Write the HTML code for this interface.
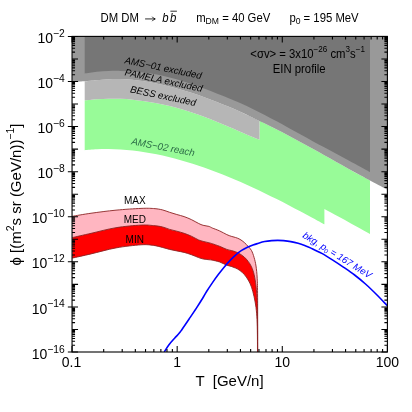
<!DOCTYPE html>
<html><head><meta charset="utf-8"><title>chart</title>
<style>html,body{margin:0;padding:0;background:#fff;width:412px;height:412px;overflow:hidden;}svg{display:block;position:absolute;left:0;top:0;will-change:transform;}text{font-family:"Liberation Sans",sans-serif;}</style></head>
<body>
<svg width="412" height="412" viewBox="0 0 412 412">
<clipPath id="cp"><rect x="72.05" y="36.40" width="315.35" height="315.60"/></clipPath>
<g clip-path="url(#cp)">
<path d="M84.70 100.34 C86.70 100.14 92.70 99.42 96.70 99.14 C100.70 98.86 104.70 98.70 108.70 98.65 C112.70 98.60 116.70 98.67 120.70 98.84 C124.70 99.01 128.70 99.30 132.70 99.69 C136.70 100.08 140.70 100.56 144.70 101.15 C148.70 101.74 152.70 102.43 156.70 103.21 C160.70 103.99 164.70 104.86 168.70 105.83 C172.70 106.80 176.70 107.85 180.70 109.01 C184.70 110.17 188.70 111.45 192.70 112.79 C196.70 114.14 200.70 115.58 204.70 117.08 C208.70 118.58 212.70 120.17 216.70 121.79 C220.70 123.41 224.70 125.09 228.70 126.78 C232.70 128.47 236.70 130.20 240.70 131.90 C244.70 133.60 249.57 135.67 252.70 136.99 C255.83 138.31 258.37 139.33 259.50 139.80 L259.50 120.87 C260.30 121.26 261.50 121.80 264.30 123.20 C267.10 124.60 272.30 127.21 276.30 129.27 C280.30 131.33 284.30 133.43 288.30 135.55 C292.30 137.67 296.30 139.82 300.30 142.00 C304.30 144.18 308.30 146.38 312.30 148.60 C316.30 150.82 320.30 153.06 324.30 155.30 C328.30 157.54 332.30 159.78 336.30 162.02 C340.30 164.26 344.30 166.50 348.30 168.73 C352.30 170.95 356.68 173.39 360.30 175.37 C363.92 177.35 368.38 179.75 370.00 180.62 L370.00 233.90 C366.25 231.83 355.10 225.65 347.50 221.50 C339.90 217.35 328.25 211.08 324.40 209.00 L324.40 224.27 C322.45 223.21 316.65 220.02 312.70 217.88 C308.75 215.74 304.70 213.57 300.70 211.45 C296.70 209.33 292.70 207.23 288.70 205.16 C284.70 203.09 280.70 201.05 276.70 199.05 C272.70 197.05 268.70 195.08 264.70 193.15 C260.70 191.22 256.70 189.32 252.70 187.48 C248.70 185.63 244.70 183.83 240.70 182.08 C236.70 180.33 232.70 178.62 228.70 176.98 C224.70 175.33 220.70 173.74 216.70 172.21 C212.70 170.68 208.70 169.21 204.70 167.80 C200.70 166.40 196.70 165.05 192.70 163.78 C188.70 162.51 184.70 161.31 180.70 160.18 C176.70 159.06 172.70 158.00 168.70 157.03 C164.70 156.06 160.70 155.17 156.70 154.36 C152.70 153.56 148.70 152.83 144.70 152.20 C140.70 151.57 136.70 151.03 132.70 150.59 C128.70 150.15 124.70 149.80 120.70 149.55 C116.70 149.30 112.70 149.15 108.70 149.11 C104.70 149.07 100.70 149.13 96.70 149.31 C92.70 149.49 86.70 150.03 84.70 150.17 Z" fill="#98fb98"/>
<path d="M84.70 81.21 C86.63 81.03 92.37 80.47 96.30 80.13 C100.23 79.79 104.30 79.39 108.30 79.20 C112.30 79.02 116.30 78.92 120.30 79.02 C124.30 79.12 128.30 79.41 132.30 79.80 C136.30 80.19 140.30 80.74 144.30 81.36 C148.30 81.98 152.30 82.72 156.30 83.53 C160.30 84.34 164.30 85.25 168.30 86.23 C172.30 87.21 176.30 88.29 180.30 89.43 C184.30 90.58 188.30 91.80 192.30 93.10 C196.30 94.39 200.30 95.76 204.30 97.20 C208.30 98.64 212.30 100.15 216.30 101.72 C220.30 103.29 224.30 104.92 228.30 106.61 C232.30 108.30 236.30 110.05 240.30 111.84 C244.30 113.64 249.10 115.87 252.30 117.38 C255.50 118.89 258.30 120.29 259.50 120.87 L259.50 139.80 C258.37 139.33 255.83 138.31 252.70 136.99 C249.57 135.67 244.70 133.60 240.70 131.90 C236.70 130.20 232.70 128.47 228.70 126.78 C224.70 125.09 220.70 123.41 216.70 121.79 C212.70 120.17 208.70 118.58 204.70 117.08 C200.70 115.58 196.70 114.14 192.70 112.79 C188.70 111.45 184.70 110.17 180.70 109.01 C176.70 107.85 172.70 106.80 168.70 105.83 C164.70 104.86 160.70 103.99 156.70 103.21 C152.70 102.43 148.70 101.74 144.70 101.15 C140.70 100.56 136.70 100.08 132.70 99.69 C128.70 99.30 124.70 99.01 120.70 98.84 C116.70 98.67 112.70 98.60 108.70 98.65 C104.70 98.70 100.70 98.86 96.70 99.14 C92.70 99.42 86.70 100.14 84.70 100.34 Z" fill="#b6b6b6"/>
<path d="M72.05 34.40 L389.40 34.40 L389.40 190.79 L387.40 189.79 C384.88 188.47 376.82 184.27 372.30 181.87 C367.78 179.47 364.30 177.56 360.30 175.37 C356.30 173.18 352.30 170.95 348.30 168.73 C344.30 166.50 340.30 164.26 336.30 162.02 C332.30 159.78 328.30 157.54 324.30 155.30 C320.30 153.06 316.30 150.82 312.30 148.60 C308.30 146.38 304.30 144.18 300.30 142.00 C296.30 139.82 292.30 137.67 288.30 135.55 C284.30 133.43 280.30 131.33 276.30 129.27 C272.30 127.21 268.30 125.18 264.30 123.20 C260.30 121.22 256.30 119.27 252.30 117.38 C248.30 115.49 244.30 113.64 240.30 111.84 C236.30 110.05 232.30 108.30 228.30 106.61 C224.30 104.92 220.30 103.29 216.30 101.72 C212.30 100.15 208.30 98.64 204.30 97.20 C200.30 95.76 196.30 94.39 192.30 93.10 C188.30 91.80 184.30 90.58 180.30 89.43 C176.30 88.29 172.30 87.21 168.30 86.23 C164.30 85.25 160.30 84.34 156.30 83.53 C152.30 82.72 148.30 81.98 144.30 81.36 C140.30 80.74 136.30 80.19 132.30 79.80 C128.30 79.41 124.30 79.12 120.30 79.02 C116.30 78.92 112.30 79.02 108.30 79.20 C104.30 79.39 100.30 79.79 96.30 80.13 C92.30 80.47 88.30 80.94 84.30 81.25 C80.30 81.56 74.30 81.86 72.30 81.98 Z" fill="#999999"/>
<path d="M84.70 34.40 L370.00 34.40 L370.00 172.01 C368.45 171.16 364.25 168.86 360.70 166.94 C357.15 165.02 352.70 162.62 348.70 160.47 C344.70 158.32 340.70 156.17 336.70 154.03 C332.70 151.89 328.70 149.76 324.70 147.61 C320.70 145.46 316.70 143.31 312.70 141.14 C308.70 138.97 304.70 136.79 300.70 134.60 C296.70 132.41 292.70 130.19 288.70 127.98 C284.70 125.78 280.70 123.54 276.70 121.37 C272.70 119.20 268.70 117.02 264.70 114.94 C260.70 112.86 256.70 110.82 252.70 108.89 C248.70 106.96 244.70 105.12 240.70 103.34 C236.70 101.56 232.70 99.87 228.70 98.22 C224.70 96.57 220.70 94.98 216.70 93.42 C212.70 91.86 208.70 90.35 204.70 88.87 C200.70 87.39 196.70 85.94 192.70 84.56 C188.70 83.19 184.70 81.84 180.70 80.62 C176.70 79.40 172.70 78.23 168.70 77.22 C164.70 76.21 160.70 75.30 156.70 74.54 C152.70 73.78 148.70 73.17 144.70 72.66 C140.70 72.15 136.70 71.77 132.70 71.47 C128.70 71.17 124.70 70.97 120.70 70.89 C116.70 70.81 112.70 70.82 108.70 70.97 C104.70 71.12 100.70 71.38 96.70 71.80 C92.70 72.22 86.70 73.23 84.70 73.51 Z" fill="#767676"/>
<path d="M72.30 216.30 C75.42 215.79 83.72 214.26 91.00 213.24 C98.28 212.22 107.67 210.97 116.00 210.16 C124.33 209.35 134.75 208.67 141.00 208.40 C147.25 208.13 149.95 208.29 153.50 208.53 C157.05 208.77 159.62 209.22 162.30 209.85 C164.98 210.48 167.18 211.53 169.60 212.30 C172.02 213.08 174.38 213.78 176.80 214.50 C179.22 215.22 181.67 215.75 184.10 216.60 C186.53 217.45 188.97 218.45 191.40 219.60 C193.83 220.75 196.75 222.55 198.70 223.50 C200.65 224.45 201.40 224.82 203.10 225.30 C204.80 225.78 207.37 225.95 208.90 226.40 C210.43 226.85 210.52 227.25 212.30 228.00 C214.08 228.75 217.18 229.80 219.60 230.90 C222.02 232.00 224.87 233.70 226.80 234.60 C228.73 235.50 229.73 235.82 231.20 236.30 C232.67 236.78 234.15 237.00 235.60 237.50 C237.05 238.00 238.45 238.47 239.90 239.30 C241.35 240.13 242.92 241.30 244.30 242.50 C245.68 243.70 247.00 245.17 248.20 246.50 C249.40 247.83 250.52 248.67 251.50 250.50 C252.48 252.33 253.35 254.92 254.10 257.50 C254.85 260.08 255.48 262.53 256.00 266.00 C256.52 269.47 256.93 273.00 257.20 278.30 C257.47 283.60 257.52 285.48 257.60 297.80 C257.68 310.12 257.68 343.13 257.70 352.20 L257.60 352.20 C257.58 346.75 257.57 327.93 257.50 319.50 C257.43 311.07 257.45 307.18 257.20 301.60 C256.95 296.02 256.52 290.52 256.00 286.00 C255.48 281.48 254.85 277.70 254.10 274.50 C253.35 271.30 252.48 268.98 251.50 266.80 C250.52 264.62 249.40 263.02 248.20 261.40 C247.00 259.78 245.68 258.35 244.30 257.10 C242.92 255.85 241.35 254.78 239.90 253.90 C238.45 253.02 237.05 252.37 235.60 251.80 C234.15 251.23 232.67 250.90 231.20 250.50 C229.73 250.10 228.73 250.10 226.80 249.40 C224.87 248.70 222.02 247.25 219.60 246.30 C217.18 245.36 214.08 244.32 212.30 243.73 C210.52 243.14 210.43 243.13 208.90 242.74 C207.37 242.35 204.80 241.84 203.10 241.38 C201.40 240.92 200.65 240.86 198.70 240.00 C196.75 239.14 193.83 237.32 191.40 236.20 C188.97 235.08 186.53 234.13 184.10 233.30 C181.67 232.47 179.22 231.85 176.80 231.20 C174.38 230.55 172.02 230.12 169.60 229.40 C167.18 228.68 164.98 227.53 162.30 226.90 C159.62 226.27 157.05 225.90 153.50 225.60 C149.95 225.30 147.25 224.75 141.00 225.10 C134.75 225.45 124.33 226.32 116.00 227.70 C107.67 229.07 98.28 231.70 91.00 233.35 C83.72 235.00 75.42 236.89 72.30 237.60 Z" fill="#ffb6c1"/>
<path d="M72.30 237.60 C75.42 236.89 83.72 235.00 91.00 233.35 C98.28 231.70 107.67 229.07 116.00 227.70 C124.33 226.32 134.75 225.45 141.00 225.10 C147.25 224.75 149.95 225.30 153.50 225.60 C157.05 225.90 159.62 226.27 162.30 226.90 C164.98 227.53 167.18 228.68 169.60 229.40 C172.02 230.12 174.38 230.55 176.80 231.20 C179.22 231.85 181.67 232.47 184.10 233.30 C186.53 234.13 188.97 235.08 191.40 236.20 C193.83 237.32 196.75 239.14 198.70 240.00 C200.65 240.86 201.40 240.92 203.10 241.38 C204.80 241.84 207.37 242.35 208.90 242.74 C210.43 243.13 210.52 243.14 212.30 243.73 C214.08 244.32 217.18 245.36 219.60 246.30 C222.02 247.25 224.87 248.70 226.80 249.40 C228.73 250.10 229.73 250.10 231.20 250.50 C232.67 250.90 234.15 251.23 235.60 251.80 C237.05 252.37 238.45 253.02 239.90 253.90 C241.35 254.78 242.92 255.85 244.30 257.10 C245.68 258.35 247.00 259.78 248.20 261.40 C249.40 263.02 250.52 264.62 251.50 266.80 C252.48 268.98 253.35 271.30 254.10 274.50 C254.85 277.70 255.48 281.48 256.00 286.00 C256.52 290.52 256.95 296.02 257.20 301.60 C257.45 307.18 257.43 311.07 257.50 319.50 C257.57 327.93 257.58 346.75 257.60 352.20 L257.50 352.20 C257.48 349.25 257.48 339.95 257.40 334.50 C257.32 329.05 257.23 324.00 257.00 319.50 C256.77 315.00 256.48 311.28 256.00 307.50 C255.52 303.72 254.85 300.20 254.10 296.80 C253.35 293.40 252.48 289.90 251.50 287.10 C250.52 284.30 249.40 282.10 248.20 280.00 C247.00 277.90 245.68 276.08 244.30 274.50 C242.92 272.92 241.35 271.57 239.90 270.50 C238.45 269.43 237.05 268.78 235.60 268.10 C234.15 267.42 232.67 266.89 231.20 266.40 C229.73 265.91 228.73 265.90 226.80 265.16 C224.87 264.42 222.02 262.79 219.60 261.96 C217.18 261.13 214.08 260.53 212.30 260.16 C210.52 259.79 210.43 259.92 208.90 259.72 C207.37 259.52 204.80 259.29 203.10 258.94 C201.40 258.59 200.65 258.32 198.70 257.61 C196.75 256.90 193.83 255.57 191.40 254.70 C188.97 253.83 186.53 253.03 184.10 252.40 C181.67 251.77 179.22 251.41 176.80 250.91 C174.38 250.41 172.02 250.00 169.60 249.41 C167.18 248.82 164.98 248.06 162.30 247.39 C159.62 246.72 157.05 245.83 153.50 245.40 C149.95 244.97 147.25 244.38 141.00 244.80 C134.75 245.22 124.33 246.38 116.00 247.90 C107.67 249.42 98.28 252.20 91.00 253.90 C83.72 255.60 75.42 257.40 72.30 258.10 Z" fill="#ff0000"/>
<path d="M72.30 216.30 C75.42 215.79 83.72 214.26 91.00 213.24 C98.28 212.22 107.67 210.97 116.00 210.16 C124.33 209.35 134.75 208.67 141.00 208.40 C147.25 208.13 149.95 208.29 153.50 208.53 C157.05 208.77 159.62 209.22 162.30 209.85 C164.98 210.48 167.18 211.53 169.60 212.30 C172.02 213.08 174.38 213.78 176.80 214.50 C179.22 215.22 181.67 215.75 184.10 216.60 C186.53 217.45 188.97 218.45 191.40 219.60 C193.83 220.75 196.75 222.55 198.70 223.50 C200.65 224.45 201.40 224.82 203.10 225.30 C204.80 225.78 207.37 225.95 208.90 226.40 C210.43 226.85 210.52 227.25 212.30 228.00 C214.08 228.75 217.18 229.80 219.60 230.90 C222.02 232.00 224.87 233.70 226.80 234.60 C228.73 235.50 229.73 235.82 231.20 236.30 C232.67 236.78 234.15 237.00 235.60 237.50 C237.05 238.00 238.45 238.47 239.90 239.30 C241.35 240.13 242.92 241.30 244.30 242.50 C245.68 243.70 247.00 245.17 248.20 246.50 C249.40 247.83 250.52 248.67 251.50 250.50 C252.48 252.33 253.35 254.92 254.10 257.50 C254.85 260.08 255.48 262.53 256.00 266.00 C256.52 269.47 256.93 273.00 257.20 278.30 C257.47 283.60 257.52 285.48 257.60 297.80 C257.68 310.12 257.68 343.13 257.70 352.20" fill="none" stroke="#8b2323" stroke-width="0.9"/>
<path d="M72.30 237.60 C75.42 236.89 83.72 235.00 91.00 233.35 C98.28 231.70 107.67 229.07 116.00 227.70 C124.33 226.32 134.75 225.45 141.00 225.10 C147.25 224.75 149.95 225.30 153.50 225.60 C157.05 225.90 159.62 226.27 162.30 226.90 C164.98 227.53 167.18 228.68 169.60 229.40 C172.02 230.12 174.38 230.55 176.80 231.20 C179.22 231.85 181.67 232.47 184.10 233.30 C186.53 234.13 188.97 235.08 191.40 236.20 C193.83 237.32 196.75 239.14 198.70 240.00 C200.65 240.86 201.40 240.92 203.10 241.38 C204.80 241.84 207.37 242.35 208.90 242.74 C210.43 243.13 210.52 243.14 212.30 243.73 C214.08 244.32 217.18 245.36 219.60 246.30 C222.02 247.25 224.87 248.70 226.80 249.40 C228.73 250.10 229.73 250.10 231.20 250.50 C232.67 250.90 234.15 251.23 235.60 251.80 C237.05 252.37 238.45 253.02 239.90 253.90 C241.35 254.78 242.92 255.85 244.30 257.10 C245.68 258.35 247.00 259.78 248.20 261.40 C249.40 263.02 250.52 264.62 251.50 266.80 C252.48 268.98 253.35 271.30 254.10 274.50 C254.85 277.70 255.48 281.48 256.00 286.00 C256.52 290.52 256.95 296.02 257.20 301.60 C257.45 307.18 257.43 311.07 257.50 319.50 C257.57 327.93 257.58 346.75 257.60 352.20" fill="none" stroke="#8b2323" stroke-width="0.9"/>
<path d="M72.30 258.10 C75.42 257.40 83.72 255.60 91.00 253.90 C98.28 252.20 107.67 249.42 116.00 247.90 C124.33 246.38 134.75 245.22 141.00 244.80 C147.25 244.38 149.95 244.97 153.50 245.40 C157.05 245.83 159.62 246.72 162.30 247.39 C164.98 248.06 167.18 248.82 169.60 249.41 C172.02 250.00 174.38 250.41 176.80 250.91 C179.22 251.41 181.67 251.77 184.10 252.40 C186.53 253.03 188.97 253.83 191.40 254.70 C193.83 255.57 196.75 256.90 198.70 257.61 C200.65 258.32 201.40 258.59 203.10 258.94 C204.80 259.29 207.37 259.52 208.90 259.72 C210.43 259.92 210.52 259.79 212.30 260.16 C214.08 260.53 217.18 261.13 219.60 261.96 C222.02 262.79 224.87 264.42 226.80 265.16 C228.73 265.90 229.73 265.91 231.20 266.40 C232.67 266.89 234.15 267.42 235.60 268.10 C237.05 268.78 238.45 269.43 239.90 270.50 C241.35 271.57 242.92 272.92 244.30 274.50 C245.68 276.08 247.00 277.90 248.20 280.00 C249.40 282.10 250.52 284.30 251.50 287.10 C252.48 289.90 253.35 293.40 254.10 296.80 C254.85 300.20 255.52 303.72 256.00 307.50 C256.48 311.28 256.77 315.00 257.00 319.50 C257.23 324.00 257.32 329.05 257.40 334.50 C257.48 339.95 257.48 349.25 257.50 352.20" fill="none" stroke="#8b2323" stroke-width="0.9"/>
<path d="M164.20 352.00 C164.97 350.82 167.07 347.20 168.80 344.90 C170.53 342.60 172.92 340.08 174.60 338.20 C176.28 336.32 177.70 335.02 178.90 333.60 C180.10 332.18 180.10 332.13 181.80 329.70 C183.50 327.27 186.67 322.60 189.10 319.00 C191.53 315.40 194.17 311.52 196.40 308.10 C198.63 304.68 200.80 301.27 202.50 298.50 C204.20 295.73 204.93 294.15 206.60 291.50 C208.27 288.85 210.55 285.42 212.50 282.60 C214.45 279.78 216.37 277.17 218.30 274.60 C220.23 272.03 222.17 269.53 224.10 267.20 C226.03 264.87 227.95 262.67 229.90 260.60 C231.85 258.53 233.85 256.50 235.80 254.80 C237.75 253.11 239.67 251.68 241.60 250.43 C243.53 249.19 245.50 248.23 247.40 247.33 C249.30 246.43 251.35 245.65 253.00 245.03 C254.65 244.41 255.37 244.18 257.30 243.61 C259.23 243.04 262.18 242.08 264.60 241.59 C267.02 241.10 269.62 240.85 271.80 240.65 C273.98 240.45 275.75 240.40 277.70 240.40 C279.65 240.40 281.32 240.46 283.50 240.66 C285.68 240.86 288.37 241.15 290.80 241.60 C293.23 242.05 295.68 242.64 298.10 243.34 C300.52 244.04 303.17 245.00 305.30 245.80 C307.43 246.60 308.15 246.85 310.90 248.12 C313.65 249.39 318.15 251.40 321.80 253.40 C325.45 255.40 329.15 257.78 332.80 260.10 C336.45 262.42 340.07 264.82 343.70 267.30 C347.33 269.78 350.97 272.22 354.60 275.00 C358.23 277.78 361.85 280.76 365.50 284.01 C369.15 287.26 372.85 290.87 376.50 294.50 C380.15 298.13 385.58 303.92 387.40 305.80" fill="none" stroke="#0000ff" stroke-width="1.6" stroke-linejoin="round"/>
</g>
<path d="M67.85 352.00H78.05M381.40 352.00H387.40M72.05 329.46H78.05M381.40 329.46H387.40M67.85 306.91H78.05M381.40 306.91H387.40M72.05 284.37H78.05M381.40 284.37H387.40M67.85 261.83H78.05M381.40 261.83H387.40M72.05 239.29H78.05M381.40 239.29H387.40M67.85 216.74H78.05M381.40 216.74H387.40M72.05 194.20H78.05M381.40 194.20H387.40M67.85 171.66H78.05M381.40 171.66H387.40M72.05 149.11H78.05M381.40 149.11H387.40M67.85 126.57H78.05M381.40 126.57H387.40M72.05 104.03H78.05M381.40 104.03H387.40M67.85 81.49H78.05M381.40 81.49H387.40M72.05 58.94H78.05M381.40 58.94H387.40M67.85 36.40H78.05M381.40 36.40H387.40M72.05 352.00V346.00M72.05 36.40V42.40M177.17 352.00V346.00M177.17 36.40V42.40M282.28 352.00V346.00M282.28 36.40V42.40M387.40 352.00V346.00M387.40 36.40V42.40" stroke="#000" stroke-width="1.05" fill="none"/>
<path d="M72.05 345.21H75.05M384.40 345.21H387.40M72.05 341.24H75.05M384.40 341.24H387.40M72.05 338.43H75.05M384.40 338.43H387.40M72.05 336.24H75.05M384.40 336.24H387.40M72.05 334.46H75.05M384.40 334.46H387.40M72.05 332.95H75.05M384.40 332.95H387.40M72.05 331.64H75.05M384.40 331.64H387.40M72.05 330.49H75.05M384.40 330.49H387.40M72.05 322.67H75.05M384.40 322.67H387.40M72.05 318.70H75.05M384.40 318.70H387.40M72.05 315.88H75.05M384.40 315.88H387.40M72.05 313.70H75.05M384.40 313.70H387.40M72.05 311.92H75.05M384.40 311.92H387.40M72.05 310.41H75.05M384.40 310.41H387.40M72.05 309.10H75.05M384.40 309.10H387.40M72.05 307.95H75.05M384.40 307.95H387.40M72.05 300.13H75.05M384.40 300.13H387.40M72.05 296.16H75.05M384.40 296.16H387.40M72.05 293.34H75.05M384.40 293.34H387.40M72.05 291.16H75.05M384.40 291.16H387.40M72.05 289.37H75.05M384.40 289.37H387.40M72.05 287.86H75.05M384.40 287.86H387.40M72.05 286.56H75.05M384.40 286.56H387.40M72.05 285.40H75.05M384.40 285.40H387.40M72.05 277.59H75.05M384.40 277.59H387.40M72.05 273.62H75.05M384.40 273.62H387.40M72.05 270.80H75.05M384.40 270.80H387.40M72.05 268.61H75.05M384.40 268.61H387.40M72.05 266.83H75.05M384.40 266.83H387.40M72.05 265.32H75.05M384.40 265.32H387.40M72.05 264.01H75.05M384.40 264.01H387.40M72.05 262.86H75.05M384.40 262.86H387.40M72.05 255.04H75.05M384.40 255.04H387.40M72.05 251.07H75.05M384.40 251.07H387.40M72.05 248.26H75.05M384.40 248.26H387.40M72.05 246.07H75.05M384.40 246.07H387.40M72.05 244.29H75.05M384.40 244.29H387.40M72.05 242.78H75.05M384.40 242.78H387.40M72.05 241.47H75.05M384.40 241.47H387.40M72.05 240.32H75.05M384.40 240.32H387.40M72.05 232.50H75.05M384.40 232.50H387.40M72.05 228.53H75.05M384.40 228.53H387.40M72.05 225.71H75.05M384.40 225.71H387.40M72.05 223.53H75.05M384.40 223.53H387.40M72.05 221.74H75.05M384.40 221.74H387.40M72.05 220.23H75.05M384.40 220.23H387.40M72.05 218.93H75.05M384.40 218.93H387.40M72.05 217.77H75.05M384.40 217.77H387.40M72.05 209.96H75.05M384.40 209.96H387.40M72.05 205.99H75.05M384.40 205.99H387.40M72.05 203.17H75.05M384.40 203.17H387.40M72.05 200.99H75.05M384.40 200.99H387.40M72.05 199.20H75.05M384.40 199.20H387.40M72.05 197.69H75.05M384.40 197.69H387.40M72.05 196.38H75.05M384.40 196.38H387.40M72.05 195.23H75.05M384.40 195.23H387.40M72.05 187.41H75.05M384.40 187.41H387.40M72.05 183.44H75.05M384.40 183.44H387.40M72.05 180.63H75.05M384.40 180.63H387.40M72.05 178.44H75.05M384.40 178.44H387.40M72.05 176.66H75.05M384.40 176.66H387.40M72.05 175.15H75.05M384.40 175.15H387.40M72.05 173.84H75.05M384.40 173.84H387.40M72.05 172.69H75.05M384.40 172.69H387.40M72.05 164.87H75.05M384.40 164.87H387.40M72.05 160.90H75.05M384.40 160.90H387.40M72.05 158.08H75.05M384.40 158.08H387.40M72.05 155.90H75.05M384.40 155.90H387.40M72.05 154.12H75.05M384.40 154.12H387.40M72.05 152.61H75.05M384.40 152.61H387.40M72.05 151.30H75.05M384.40 151.30H387.40M72.05 150.15H75.05M384.40 150.15H387.40M72.05 142.33H75.05M384.40 142.33H387.40M72.05 138.36H75.05M384.40 138.36H387.40M72.05 135.54H75.05M384.40 135.54H387.40M72.05 133.36H75.05M384.40 133.36H387.40M72.05 131.57H75.05M384.40 131.57H387.40M72.05 130.06H75.05M384.40 130.06H387.40M72.05 128.76H75.05M384.40 128.76H387.40M72.05 127.60H75.05M384.40 127.60H387.40M72.05 119.79H75.05M384.40 119.79H387.40M72.05 115.82H75.05M384.40 115.82H387.40M72.05 113.00H75.05M384.40 113.00H387.40M72.05 110.81H75.05M384.40 110.81H387.40M72.05 109.03H75.05M384.40 109.03H387.40M72.05 107.52H75.05M384.40 107.52H387.40M72.05 106.21H75.05M384.40 106.21H387.40M72.05 105.06H75.05M384.40 105.06H387.40M72.05 97.24H75.05M384.40 97.24H387.40M72.05 93.27H75.05M384.40 93.27H387.40M72.05 90.46H75.05M384.40 90.46H387.40M72.05 88.27H75.05M384.40 88.27H387.40M72.05 86.49H75.05M384.40 86.49H387.40M72.05 84.98H75.05M384.40 84.98H387.40M72.05 83.67H75.05M384.40 83.67H387.40M72.05 82.52H75.05M384.40 82.52H387.40M72.05 74.70H75.05M384.40 74.70H387.40M72.05 70.73H75.05M384.40 70.73H387.40M72.05 67.91H75.05M384.40 67.91H387.40M72.05 65.73H75.05M384.40 65.73H387.40M72.05 63.94H75.05M384.40 63.94H387.40M72.05 62.43H75.05M384.40 62.43H387.40M72.05 61.13H75.05M384.40 61.13H387.40M72.05 59.97H75.05M384.40 59.97H387.40M72.05 52.16H75.05M384.40 52.16H387.40M72.05 48.19H75.05M384.40 48.19H387.40M72.05 45.37H75.05M384.40 45.37H387.40M72.05 43.19H75.05M384.40 43.19H387.40M72.05 41.40H75.05M384.40 41.40H387.40M72.05 39.89H75.05M384.40 39.89H387.40M72.05 38.58H75.05M384.40 38.58H387.40M72.05 37.43H75.05M384.40 37.43H387.40M103.69 352.00V349.00M103.69 36.40V39.40M122.20 352.00V349.00M122.20 36.40V39.40M135.34 352.00V349.00M135.34 36.40V39.40M145.52 352.00V349.00M145.52 36.40V39.40M153.85 352.00V349.00M153.85 36.40V39.40M160.88 352.00V349.00M160.88 36.40V39.40M166.98 352.00V349.00M166.98 36.40V39.40M172.36 352.00V349.00M172.36 36.40V39.40M208.81 352.00V349.00M208.81 36.40V39.40M227.32 352.00V349.00M227.32 36.40V39.40M240.45 352.00V349.00M240.45 36.40V39.40M250.64 352.00V349.00M250.64 36.40V39.40M258.96 352.00V349.00M258.96 36.40V39.40M266.00 352.00V349.00M266.00 36.40V39.40M272.10 352.00V349.00M272.10 36.40V39.40M277.47 352.00V349.00M277.47 36.40V39.40M313.93 352.00V349.00M313.93 36.40V39.40M332.44 352.00V349.00M332.44 36.40V39.40M345.57 352.00V349.00M345.57 36.40V39.40M355.76 352.00V349.00M355.76 36.40V39.40M364.08 352.00V349.00M364.08 36.40V39.40M371.12 352.00V349.00M371.12 36.40V39.40M377.21 352.00V349.00M377.21 36.40V39.40M382.59 352.00V349.00M382.59 36.40V39.40" stroke="#000" stroke-width="1.1" fill="none"/>
<rect x="72.05" y="36.40" width="315.35" height="315.60" fill="none" stroke="#000" stroke-width="1.10"/>
<g font-family="Liberation Sans, sans-serif" fill="#000" opacity="0.999">
<text x="64.8" y="358.60" font-size="14" text-anchor="end">10<tspan font-size="10.3" dx="0" dy="-6.1">−16</tspan></text>
<text x="64.8" y="313.51" font-size="14" text-anchor="end">10<tspan font-size="10.3" dx="0" dy="-6.1">−14</tspan></text>
<text x="64.8" y="268.43" font-size="14" text-anchor="end">10<tspan font-size="10.3" dx="0" dy="-6.1">−12</tspan></text>
<text x="64.8" y="223.34" font-size="14" text-anchor="end">10<tspan font-size="10.3" dx="0" dy="-6.1">−10</tspan></text>
<text x="64.8" y="178.26" font-size="14" text-anchor="end">10<tspan font-size="10.3" dx="0" dy="-6.1">−8</tspan></text>
<text x="64.8" y="133.17" font-size="14" text-anchor="end">10<tspan font-size="10.3" dx="0" dy="-6.1">−6</tspan></text>
<text x="64.8" y="88.09" font-size="14" text-anchor="end">10<tspan font-size="10.3" dx="0" dy="-6.1">−4</tspan></text>
<text x="64.8" y="43.00" font-size="14" text-anchor="end">10<tspan font-size="10.3" dx="0" dy="-6.1">−2</tspan></text>
<text x="71.45" y="366.8" font-size="14" text-anchor="middle">0.1</text>
<text x="177.17" y="366.8" font-size="14" text-anchor="middle">1</text>
<text x="282.28" y="366.8" font-size="14" text-anchor="middle">10</text>
<text x="387.40" y="366.8" font-size="14" text-anchor="middle">100</text>
<text x="229.6" y="385.7" font-size="15" text-anchor="middle" xml:space="preserve">T  [GeV/n]</text>
<text transform="translate(20.8 194.5) rotate(-90)" font-size="15" text-anchor="middle" xml:space="preserve">ϕ [(m<tspan font-size="10.5" dy="-6.6">2</tspan><tspan dy="6.6">s sr (GeV/n))</tspan><tspan font-size="10.5" dy="-6.6">−1</tspan><tspan dy="6.6">]</tspan></text>
<g transform="translate(0 21.9) scale(1 1.06) translate(0 -21.9)">
<text x="100.5" y="21.9" font-size="11.33" xml:space="preserve">DM DM</text>
<path d="M145.1 19.1H155 M152.2 17.0Q153.3 18.6 155.3 19.1Q153.3 19.6 152.2 21.2" stroke="#000" stroke-width="0.8" fill="none"/>
<text x="162.3" y="21.9" font-size="11.33" font-style="italic">b</text>
<text x="169.9" y="21.9" font-size="11.33" font-style="italic">b</text>
<path d="M170.4 11.8H176.9" stroke="#000" stroke-width="0.8"/>
<text x="196.2" y="21.9" font-size="11.33" xml:space="preserve">m<tspan font-size="8.6" dy="1.8">DM</tspan><tspan dy="-1.8"> = 40 GeV</tspan></text>
<text x="289.4" y="21.9" font-size="11.33" xml:space="preserve">p<tspan font-size="8.6" dy="1.8">0</tspan><tspan dy="-1.8"> = 195 MeV</tspan></text>
</g>
<g transform="translate(0 57.8) scale(1 1.06) translate(0 -57.8)">
<text x="250.3" y="57.8" font-size="11.33" xml:space="preserve">&lt;σv&gt; = 3x10<tspan font-size="8.1" dy="-5.6">−26</tspan><tspan dy="5.6"> cm</tspan><tspan font-size="8.1" dy="-5.6">3</tspan><tspan dy="5.6">s</tspan><tspan font-size="8.1" dy="-5.6">−1</tspan></text>
<text x="299.2" y="71.9" font-size="11.33" text-anchor="middle">EIN profile</text>
</g>
<text x="134.75" y="204.1" font-size="10" text-anchor="middle">MAX</text>
<text x="134.75" y="223.2" font-size="10" text-anchor="middle">MED</text>
<text x="134.75" y="242.7" font-size="10" text-anchor="middle">MIN</text>
<text transform="translate(124.2 63.2) rotate(11.6)" font-size="9.63" font-style="italic">AMS−01 excluded</text>
<text transform="translate(124.3 75.3) rotate(12.1)" font-size="9.63" font-style="italic">PAMELA excluded</text>
<text transform="translate(129.8 92.3) rotate(11.8)" font-size="9.63" font-style="italic">BESS excluded</text>
<text transform="translate(130.9 144.3) rotate(10.6)" font-size="9.7" font-style="italic" fill="#2a6b45">AMS−02 reach</text>
<text transform="translate(302.0 236.9) rotate(31.9)" font-size="9.6" font-style="italic" fill="#0000ff" xml:space="preserve">bkg, p<tspan font-size="6.4" dy="1.6">0</tspan><tspan dy="-1.6"> = 167 MeV</tspan></text>
</g>
</svg>
</body></html>
